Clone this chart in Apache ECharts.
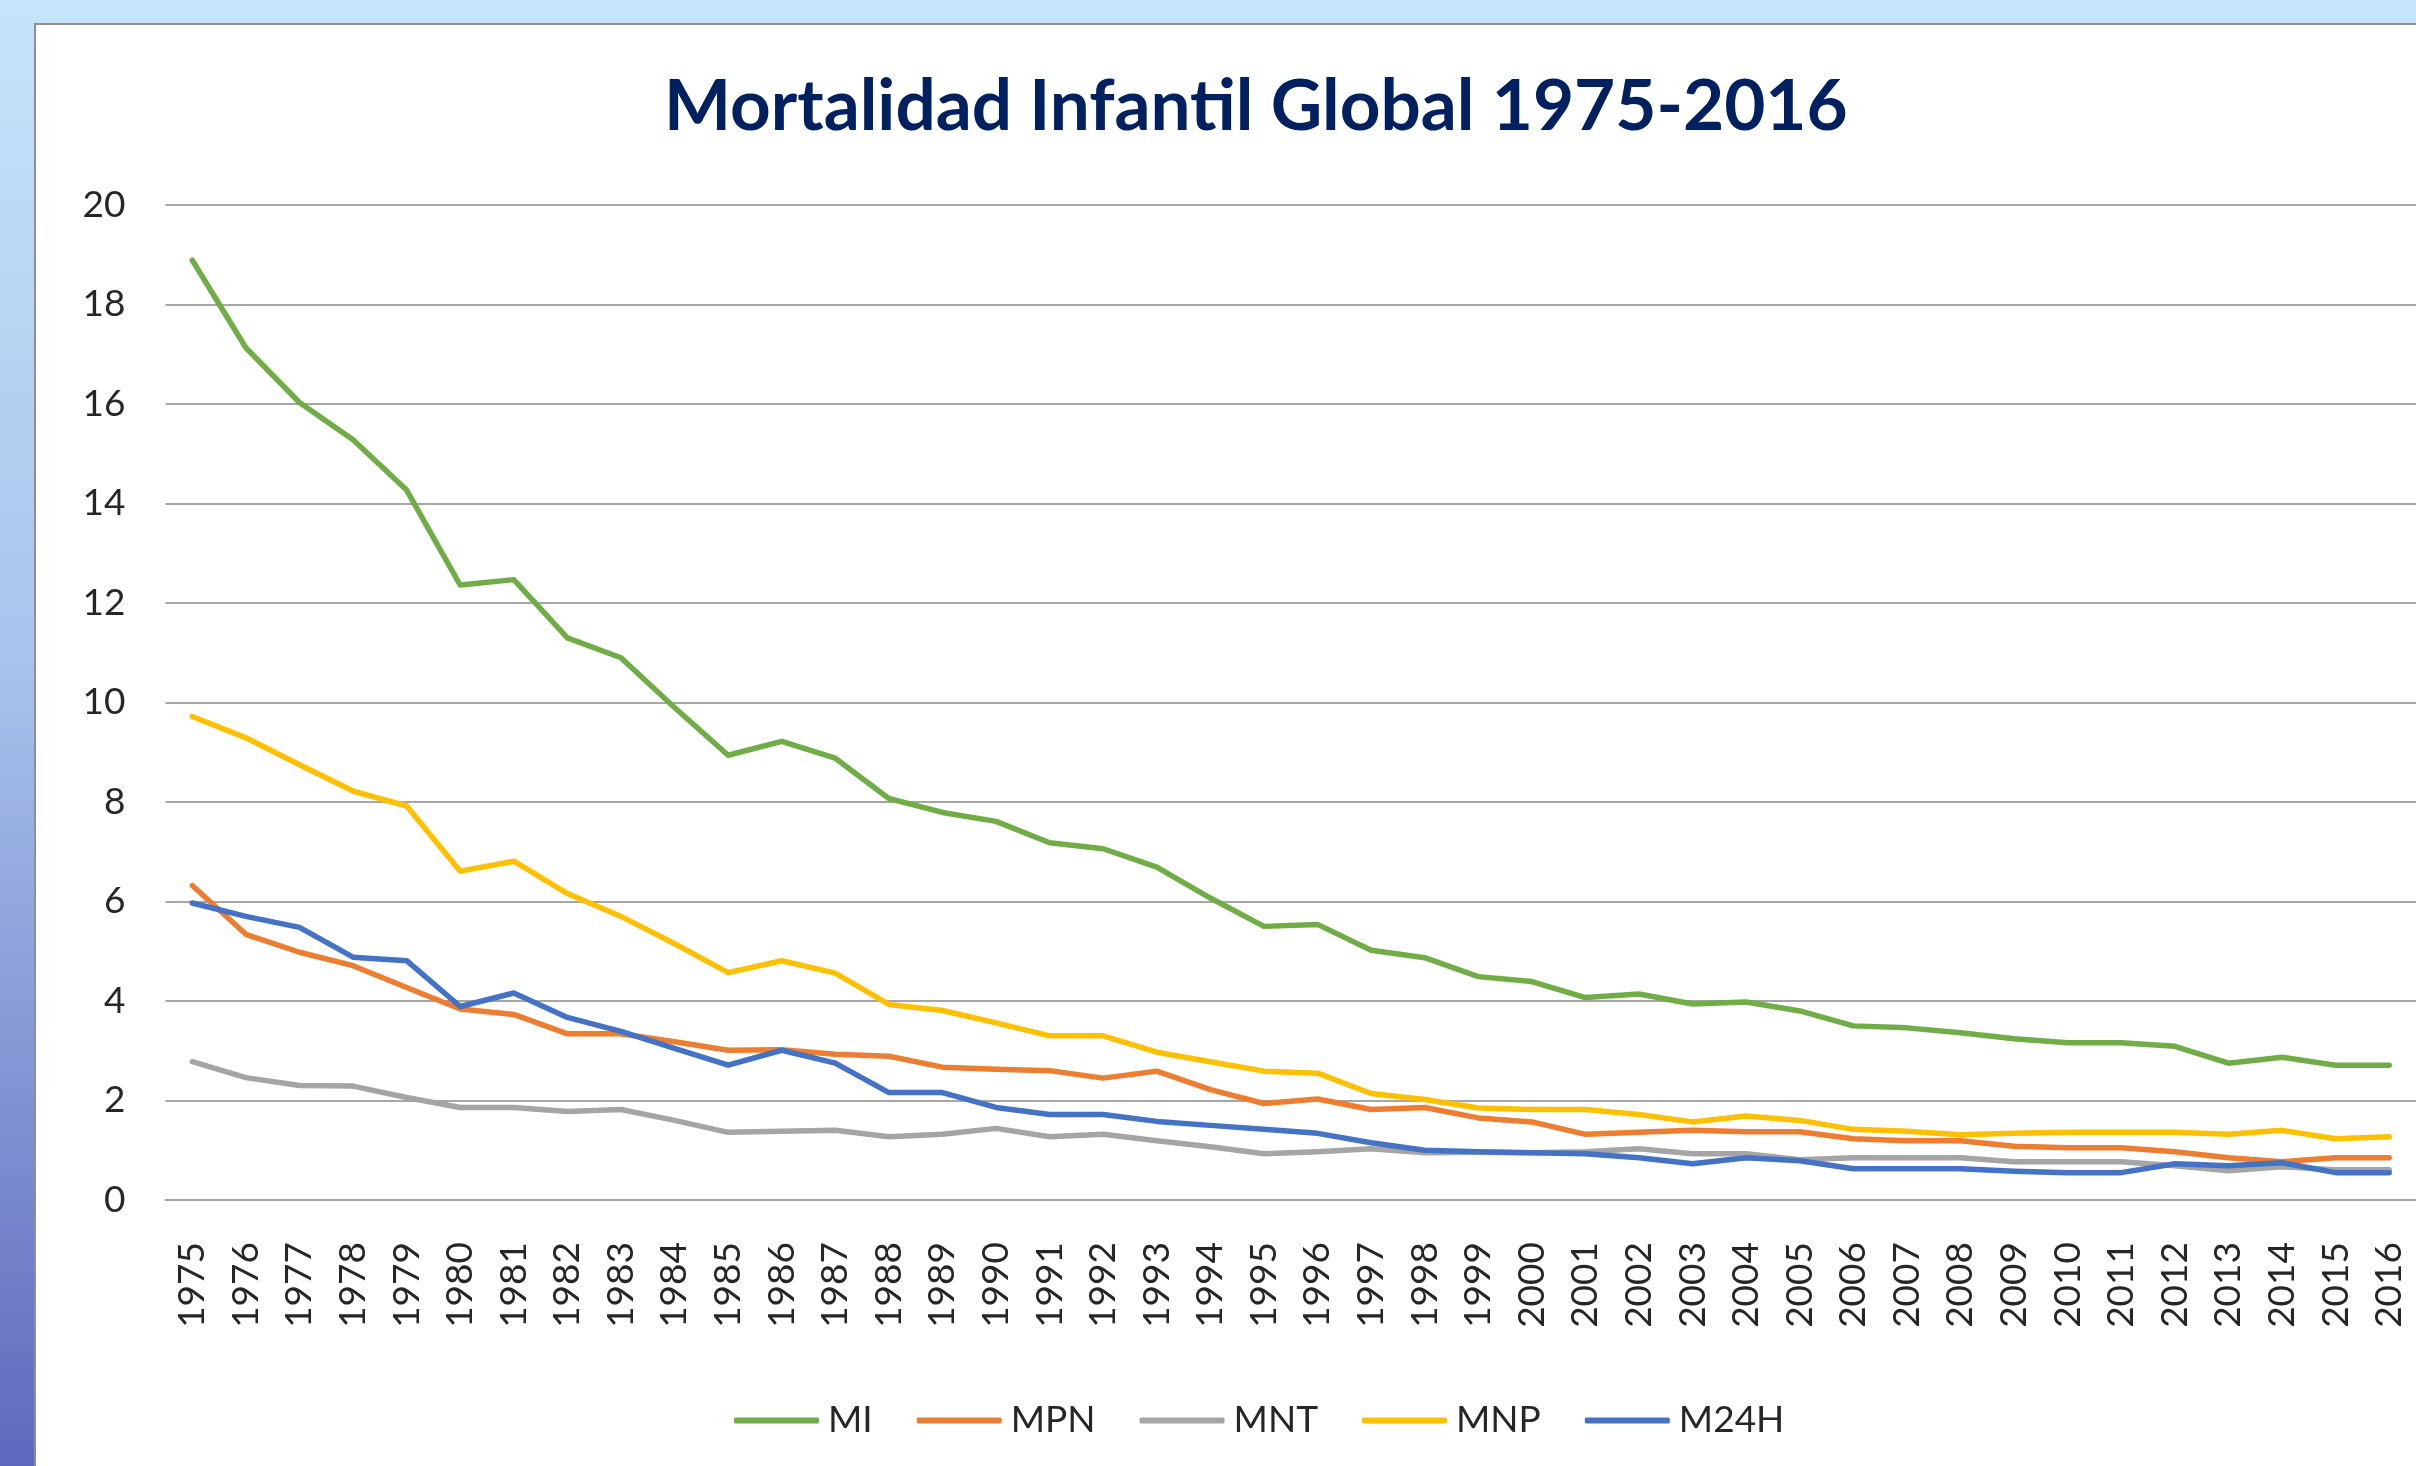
<!DOCTYPE html>
<html>
<head>
<meta charset="utf-8">
<script src="https://cdn.jsdelivr.net/npm/echarts@6/dist/echarts.min.js"></script>
<style>
html,body{margin:0;padding:0;overflow:hidden;}
#chart{width:2416px;height:1466px;}
</style>
</head>
<body>
<div id="chart"></div>
<script>
const years = ['1975','1976','1977','1978','1979','1980','1981','1982','1983','1984','1985','1986','1987','1988','1989','1990','1991','1992','1993','1994','1995','1996','1997','1998','1999','2000','2001','2002','2003','2004','2005','2006','2007','2008','2009','2010','2011','2012','2013','2014','2015','2016'];
const MI   = [18.89,17.13,16.03,15.28,14.27,12.36,12.47,11.30,10.90,9.90, 8.94,9.22,8.88,8.07,7.79,7.61,7.18,7.06,6.69,6.07, 5.50,5.54,5.02,4.87,4.49,4.39,4.07,4.14,3.94,3.98, 3.80,3.50,3.46,3.36,3.24,3.16,3.16,3.09,2.75,2.87, 2.71,2.71];
const MPN  = [6.32,5.34,4.98,4.71,4.27,3.84,3.73,3.34,3.34,3.18, 3.01,3.02,2.93,2.89,2.67,2.63,2.60,2.45,2.59,2.22, 1.94,2.03,1.82,1.86,1.65,1.57,1.32,1.36,1.40,1.37, 1.37,1.23,1.19,1.19,1.08,1.05,1.05,0.97,0.85,0.77, 0.85,0.85];
const MNT  = [2.78,2.46,2.30,2.29,2.06,1.86,1.86,1.78,1.82,1.60, 1.36,1.38,1.40,1.27,1.32,1.44,1.27,1.32,1.19,1.07, 0.93,0.97,1.03,0.95,0.96,0.95,0.97,1.03,0.93,0.93, 0.81,0.85,0.85,0.85,0.77,0.77,0.77,0.69,0.59,0.67, 0.61,0.61];
const MNP  = [9.72,9.29,8.75,8.22,7.92,6.61,6.81,6.16,5.70,5.15, 4.57,4.81,4.56,3.93,3.81,3.56,3.30,3.30,2.97,2.78, 2.59,2.55,2.14,2.02,1.85,1.82,1.82,1.72,1.57,1.69, 1.60,1.42,1.38,1.31,1.34,1.36,1.36,1.36,1.32,1.40, 1.23,1.27];
const M24H = [5.97,5.70,5.48,4.88,4.81,3.89,4.16,3.67,3.39,3.05, 2.71,3.01,2.75,2.16,2.16,1.86,1.72,1.72,1.58,1.50, 1.42,1.34,1.15,1.00,0.97,0.95,0.93,0.85,0.73,0.85, 0.79,0.63,0.63,0.63,0.58,0.55,0.55,0.73,0.69,0.75, 0.55,0.55];
const seriesNames = ['MI','MPN','MNT','MNP','M24H'];
const seriesColors = ['#70ad47','#ed7d31','#a5a5a5','#ffc000','#4472c4'];
const seriesData = [MI, MPN, MNT, MNP, M24H];
const titleText = 'Mortalidad Infantil Global 1975-2016';

const FONT = 'Lato, "Open Sans", sans-serif';
const chart = echarts.init(document.getElementById('chart'));
chart.setOption({
  animation: false,
  backgroundColor: '#ffffff',
  graphic: [
    { type: 'rect', z: -10, silent: true, shape: { x: 0, y: 0, width: 2416, height: 1466 },
      style: { fill: new echarts.graphic.LinearGradient(0, 0, 0, 1, [
        { offset: 0, color: '#c6e5f9' },
        { offset: 0.45, color: '#a9c3ec' },
        { offset: 1, color: '#5e69bd' }
      ]) } },
    { type: 'rect', z: -9, silent: true, shape: { x: 35, y: 24, width: 2400, height: 1460 },
      style: { fill: '#ffffff', stroke: '#8f8f8f', lineWidth: 2 } }
  ],
  title: {
    text: titleText,
    left: 664,
    top: 72,
    padding: 0,
    textStyle: { fontFamily: FONT, fontSize: 71, fontWeight: 'bold', color: '#002060' }
  },
  legend: {
    data: seriesNames,
    left: 729,
    top: 1397,
    itemWidth: 85,
    itemHeight: 6,
    itemGap: 44,
    icon: 'roundRect',
    textStyle: { fontFamily: FONT, fontSize: 37, color: '#262626', padding: [0, 0, 0, 4] }
  },
  grid: { left: 165.5, right: -6.6, top: 205, bottom: 266 },
  xAxis: {
    type: 'category',
    data: years,
    boundaryGap: true,
    axisLine: { show: true, lineStyle: { color: '#a6a6a6', width: 2 } },
    axisTick: { show: false },
    axisLabel: { rotate: 90, margin: 42, interval: 0, fontFamily: FONT, fontSize: 37, color: '#262626' },
    splitLine: { show: false }
  },
  yAxis: {
    type: 'value',
    min: 0, max: 20, interval: 2,
    axisLine: { show: false },
    axisTick: { show: false },
    axisLabel: { margin: 40, fontFamily: FONT, fontSize: 37, color: '#262626' },
    splitLine: { show: true, lineStyle: { color: '#a6a6a6', width: 2 } }
  },
  series: seriesNames.map((n, i) => ({
    name: n,
    type: 'line',
    data: seriesData[i],
    symbol: 'none',
    itemStyle: { color: seriesColors[i] },
    lineStyle: { color: seriesColors[i], width: 5.5, cap: 'round', join: 'round' },
    z: 2 + i
  }))
});
</script>
</body>
</html>
